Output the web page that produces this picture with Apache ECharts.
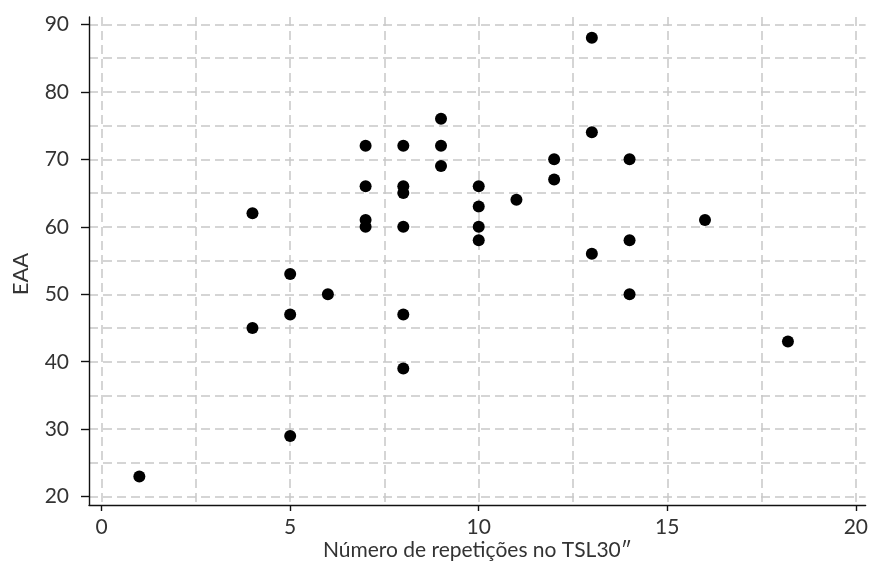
<!DOCTYPE html>
<html>
<head>
<meta charset="utf-8">
<script src="https://cdn.jsdelivr.net/npm/echarts@6/dist/echarts.min.js"></script>
<style>
  html, body { margin: 0; padding: 0; background: #ffffff; }
  #chart { width: 871px; height: 568px; }
</style>
</head>
<body>
<div id="chart"></div>
<script>
// Data
const repeticoes = [1, 4, 4, 5, 5, 5, 6, 7, 7, 7, 7, 8, 8, 8, 8, 8, 8, 9, 9, 9, 10, 10, 10, 10, 11, 12, 12, 13, 13, 13, 14, 14, 14, 16, 18.2];
const eaa        = [23, 62, 45, 53, 47, 29, 50, 72, 66, 61, 60, 72, 66, 65, 60, 47, 39, 76, 72, 69, 66, 63, 60, 58, 64, 70, 67, 88, 74, 56, 70, 58, 50, 61, 43];

const xTickLabels = [0, 5, 10, 15, 20];
const yTickLabels = [20, 30, 40, 50, 60, 70, 80, 90];
const xGridValues = [0, 2.5, 5, 7.5, 10, 12.5, 15, 17.5, 20];
const yGridValues = [20, 25, 30, 35, 40, 45, 50, 55, 60, 65, 70, 75, 80, 85, 90];

const xName = 'Número de repetições no TSL30″';
const yName = 'EAA';

const points = repeticoes.map((x, i) => [x, eaa[i]]);

const FONT = 'Lato';
const TEXT = '#333333';
const X_MIN = -0.335, X_MAX = 20.26;
const Y_MIN = 18.77, Y_MAX = 91.09;
const gridLine = { show: true, lineStyle: { color: '#c8c8c8', width: 1.5, type: [9, 5] } };

const chart = echarts.init(document.getElementById('chart'), null, { renderer: 'canvas' });
chart.setOption({
  animation: false,
  backgroundColor: '#ffffff',
  grid: { left: 89, right: 4, top: 17, bottom: 63, containLabel: false },
  xAxis: [
    {
      type: 'value', min: X_MIN, max: X_MAX, position: 'bottom',
      name: xName, nameLocation: 'middle', nameGap: 35, nameMoveOverlap: false,
      nameTextStyle: { fontFamily: FONT, fontSize: 21, color: TEXT },
      axisLine: { show: true, onZero: false, lineStyle: { color: '#111', width: 1.4 } },
      axisTick: { show: true, length: 6, customValues: xTickLabels, lineStyle: { color: '#111', width: 1.4 } },
      axisLabel: { customValues: xTickLabels, fontFamily: FONT, fontSize: 21, color: TEXT, margin: 12 },
      splitLine: { show: false }
    },
    {
      type: 'value', min: X_MIN, max: X_MAX, position: 'bottom',
      axisLine: { show: false, onZero: false }, axisLabel: { show: false },
      axisTick: { show: false, customValues: xGridValues },
      splitLine: gridLine
    }
  ],
  yAxis: [
    {
      type: 'value', min: Y_MIN, max: Y_MAX, position: 'left',
      name: yName, nameLocation: 'middle', nameGap: 57, nameRotate: 90, nameMoveOverlap: false,
      nameTextStyle: { fontFamily: FONT, fontSize: 22, color: TEXT, padding: [0, 26, 0, 0] },
      axisLine: { show: true, onZero: false, lineStyle: { color: '#111', width: 1.4 } },
      axisTick: { show: true, length: 8, customValues: yTickLabels, lineStyle: { color: '#111', width: 1.4 } },
      axisLabel: { customValues: yTickLabels, fontFamily: FONT, fontSize: 21, color: TEXT, margin: 20 },
      splitLine: { show: false }
    },
    {
      type: 'value', min: Y_MIN, max: Y_MAX, position: 'left',
      axisLine: { show: false, onZero: false }, axisLabel: { show: false },
      axisTick: { show: false, customValues: yGridValues },
      splitLine: gridLine
    }
  ],
  series: [
    {
      type: 'scatter', xAxisIndex: 0, yAxisIndex: 0,
      data: points, symbol: 'circle', symbolSize: 12,
      itemStyle: { color: '#000000', opacity: 1 },
      z: 5
    }
  ]
});
</script>
</body>
</html>
